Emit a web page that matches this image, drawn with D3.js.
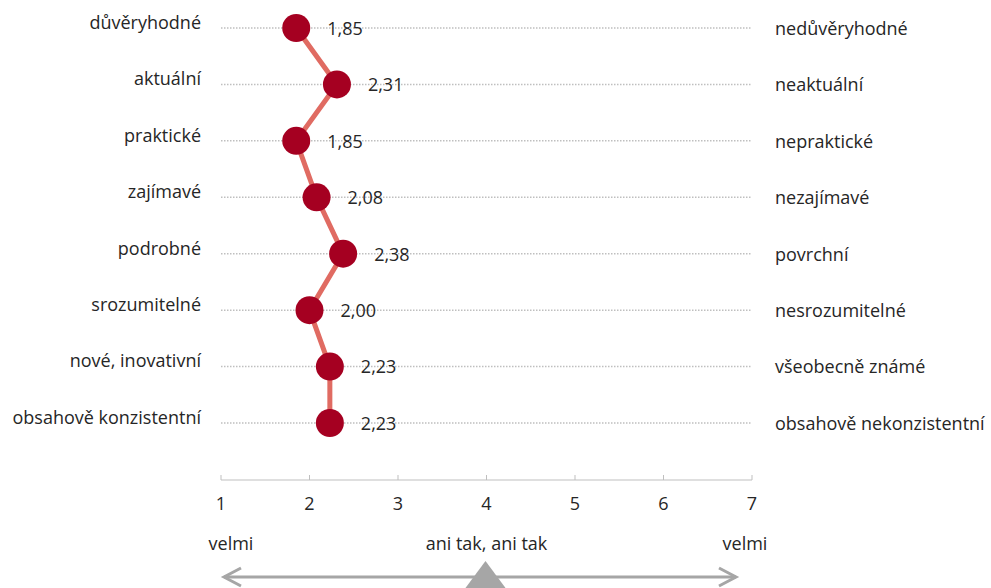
<!DOCTYPE html>
<html><head><meta charset="utf-8">
<script src="https://cdn.jsdelivr.net/npm/d3@7"></script>
<style>
body{margin:0;background:#fff;}
text{font-family:"Open Sans",sans-serif;fill:#262626;}
</style></head>
<body><svg id="c" width="991" height="588"></svg>
<script>
const leftLabels = ["důvěryhodné","aktuální","praktické","zajímavé","podrobné","srozumitelné","nové, inovativní","obsahově konzistentní"];
const rightLabels = ["nedůvěryhodné","neaktuální","nepraktické","nezajímavé","povrchní","nesrozumitelné","všeobecně známé","obsahově nekonzistentní"];
const values = [1.85,2.31,1.85,2.08,2.38,2.00,2.23,2.23];
const ticks = [1,2,3,4,5,6,7];
const scaleLabels = [{v:1,t:"velmi"},{v:4,t:"ani tak, ani tak"},{v:7,t:"velmi"}];

const FS = "18px";
const svg = d3.select("#c");
const x = d3.scaleLinear().domain([1,7]).range([221,752]);
const y = d3.scalePoint().domain(d3.range(values.length)).range([28,423]);
const fmt = v => v.toFixed(2).replace(".",",");

// dotted gridlines
svg.append("g").selectAll("line").data(values).join("line")
  .attr("x1",x(1)).attr("x2",x(7))
  .attr("y1",(d,i)=>y(i)).attr("y2",(d,i)=>y(i))
  .attr("stroke","#bfbfbf").attr("stroke-width",1.5).attr("stroke-dasharray","1.5,1.5");

// left labels
svg.append("g").selectAll("text").data(leftLabels).join("text")
  .attr("x",201).attr("y",(d,i)=>y(i)-4).attr("text-anchor","end")
  .attr("dominant-baseline","middle").style("font-size",FS).text(d=>d);
// right labels
svg.append("g").selectAll("text").data(rightLabels).join("text")
  .attr("x",775).attr("y",(d,i)=>y(i)+2).attr("text-anchor","start")
  .attr("dominant-baseline","middle").style("font-size",FS).text(d=>d);

// line
svg.append("path").datum(values)
  .attr("d",d3.line().x(d=>x(d)).y((d,i)=>y(i)))
  .attr("fill","none").attr("stroke","#e06b62").attr("stroke-width",5);

// markers
svg.append("g").selectAll("circle").data(values).join("circle")
  .attr("cx",d=>x(d)).attr("cy",(d,i)=>y(i)).attr("r",14).attr("fill","#a50021");

// value labels
svg.append("g").selectAll("text").data(values).join("text")
  .attr("x",d=>x(d)+31).attr("y",(d,i)=>y(i)+2)
  .attr("dominant-baseline","middle").style("font-size",FS).text(d=>fmt(d));

// axis
const ax = svg.append("g").attr("transform","translate(0,480)");
ax.append("line").attr("x1",x(1)).attr("x2",x(7)).attr("stroke","#bfbfbf").attr("stroke-width",1);
ax.selectAll("line.t").data(ticks).join("line").attr("class","t")
  .attr("x1",d=>x(d)).attr("x2",d=>x(d)).attr("y1",0).attr("y2",-5)
  .attr("stroke","#bfbfbf");
ax.selectAll("text").data(ticks).join("text")
  .attr("x",d=>x(d)).attr("y",25).attr("text-anchor","middle")
  .attr("dominant-baseline","middle").style("font-size",FS).text(d=>d);

svg.append("g").selectAll("text").data(scaleLabels).join("text")
  .attr("x",d=>x(d.v)-(d.v===1?-10:d.v===7?7:0)).attr("y",545).attr("text-anchor","middle")
  .attr("dominant-baseline","middle").style("font-size",FS).text(d=>d.t);

// bottom arrow
const ay = 577, ax1 = x(1)+3, ax2 = x(7)-16;
svg.append("line").attr("x1",ax1).attr("x2",ax2).attr("y1",ay).attr("y2",ay)
  .attr("stroke","#a6a6a6").attr("stroke-width",3);
svg.append("path").attr("d",`M${ax1+17},${ay-9} L${ax1},${ay} L${ax1+17},${ay+9}`)
  .attr("fill","none").attr("stroke","#a6a6a6").attr("stroke-width",3);
svg.append("path").attr("d",`M${ax2-17},${ay-9} L${ax2},${ay} L${ax2-17},${ay+9}`)
  .attr("fill","none").attr("stroke","#a6a6a6").attr("stroke-width",3);
svg.append("path").attr("d",`M${x(4)-1},561 L${x(4)-24},592 L${x(4)+22},592 Z`).attr("fill","#a6a6a6");
</script></body></html>
